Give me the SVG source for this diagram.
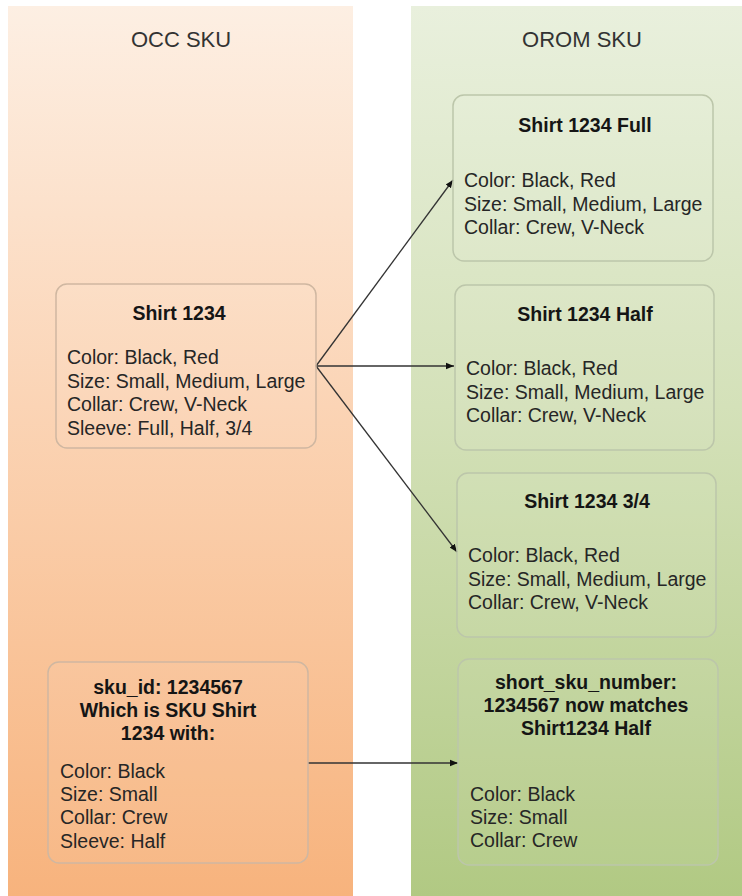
<svg xmlns="http://www.w3.org/2000/svg" width="742" height="896" viewBox="0 0 742 896">
<defs>
<linearGradient id="gOcc" x1="0" y1="0" x2="0" y2="1">
<stop offset="0" stop-color="#fdefe3"/>
<stop offset="0.45" stop-color="#fbd4b5"/>
<stop offset="1" stop-color="#f7b37d"/>
</linearGradient>
<linearGradient id="gOrom" x1="0" y1="0" x2="0" y2="1">
<stop offset="0" stop-color="#e9f0dd"/>
<stop offset="0.45" stop-color="#d4e1b9"/>
<stop offset="1" stop-color="#b1c983"/>
</linearGradient>
<marker id="arr" viewBox="0 0 10 10" refX="10" refY="5" markerWidth="8" markerHeight="8" markerUnits="userSpaceOnUse" orient="auto">
<path d="M0,1 L10,5 L0,9 Z" fill="#111"/>
</marker>
<style>
.lane-title{font-family:"Liberation Sans",Arial,sans-serif;font-size:22px;fill:#333;text-anchor:middle}
.box{fill:#ffffff;fill-opacity:0.06;stroke-width:1.5;}
.bl{stroke:#cfb7a1}
.br{stroke:#bcc6aa}
.t{font-family:"Liberation Sans",Arial,sans-serif;font-size:19.5px;font-weight:bold;fill:#151515;text-anchor:middle}
.b{font-family:"Liberation Sans",Arial,sans-serif;font-size:19.5px;fill:#262626}
.c{fill:none;stroke:#333;stroke-width:1.3}
</style>
</defs>
<rect x="0" y="0" width="742" height="896" fill="#ffffff"/>
<g id="lane-occ">
<rect x="8" y="6" width="345" height="890" fill="url(#gOcc)"/>
<text class="lane-title" x="181" y="47">OCC SKU</text>
</g>
<g id="lane-orom">
<rect x="411" y="6" width="331" height="890" fill="url(#gOrom)"/>
<text class="lane-title" x="582" y="47">OROM SKU</text>
</g>
<g id="connectors">
<line class="c" x1="316" y1="366" x2="453" y2="180" marker-end="url(#arr)"/>
<line class="c" x1="316" y1="366" x2="454" y2="366" marker-end="url(#arr)"/>
<line class="c" x1="316" y1="366" x2="457" y2="552" marker-end="url(#arr)"/>
<line class="c" x1="308" y1="763" x2="458" y2="763" marker-end="url(#arr)"/>
</g>
<g id="node-shirt1234">
<rect class="box bl" x="56" y="284" width="260" height="164" rx="11"/>
<text class="t" x="179" y="320">Shirt 1234</text>
<text class="b" x="67" y="364">Color: Black, Red</text>
<text class="b" x="67" y="388">Size: Small, Medium, Large</text>
<text class="b" x="67" y="411">Collar: Crew, V-Neck</text>
<text class="b" x="67" y="435">Sleeve: Full, Half, 3/4</text>
</g>
<g id="node-full">
<rect class="box br" x="453" y="95" width="260" height="166" rx="11"/>
<text class="t" x="585" y="132">Shirt 1234 Full</text>
<text class="b" x="464" y="187">Color: Black, Red</text>
<text class="b" x="464" y="211">Size: Small, Medium, Large</text>
<text class="b" x="464" y="234">Collar: Crew, V-Neck</text>
</g>
<g id="node-half">
<rect class="box br" x="455" y="285" width="259" height="165" rx="11"/>
<text class="t" x="585" y="321">Shirt 1234 Half</text>
<text class="b" x="466" y="375">Color: Black, Red</text>
<text class="b" x="466" y="399">Size: Small, Medium, Large</text>
<text class="b" x="466" y="422">Collar: Crew, V-Neck</text>
</g>
<g id="node-34">
<rect class="box br" x="457" y="473" width="259" height="164" rx="11"/>
<text class="t" x="587" y="508">Shirt 1234 3/4</text>
<text class="b" x="468" y="562">Color: Black, Red</text>
<text class="b" x="468" y="586">Size: Small, Medium, Large</text>
<text class="b" x="468" y="609">Collar: Crew, V-Neck</text>
</g>
<g id="node-skuid">
<rect class="box bl" x="48" y="662" width="260" height="201" rx="11"/>
<text class="t" x="168" y="694">sku_id: 1234567</text>
<text class="t" x="168" y="717">Which is SKU Shirt</text>
<text class="t" x="168" y="740">1234 with:</text>
<text class="b" x="60" y="778">Color: Black</text>
<text class="b" x="60" y="801">Size: Small</text>
<text class="b" x="60" y="824">Collar: Crew</text>
<text class="b" x="60" y="848">Sleeve: Half</text>
</g>
<g id="node-short">
<rect class="box br" x="458" y="659" width="260" height="206" rx="11"/>
<text class="t" x="586" y="689">short_sku_number:</text>
<text class="t" x="586" y="712">1234567 now matches</text>
<text class="t" x="586" y="735">Shirt1234 Half</text>
<text class="b" x="470" y="801">Color: Black</text>
<text class="b" x="470" y="824">Size: Small</text>
<text class="b" x="470" y="847">Collar: Crew</text>
</g>
</svg>
